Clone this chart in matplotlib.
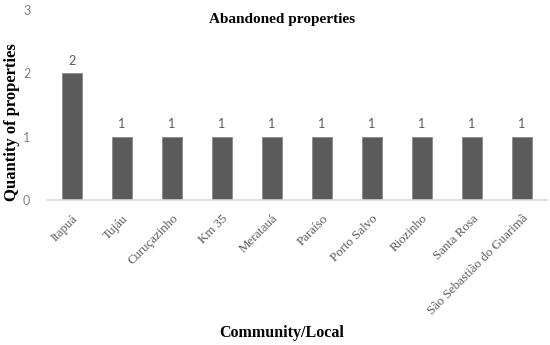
import matplotlib
matplotlib.use('Agg')
import matplotlib.pyplot as plt

communities = ['Itapuá', 'Tujáu', 'Curuçazinho', 'Km 35', 'Meratauá', 'Paraíso',
               'Porto Salvo', 'Riozinho', 'Santa Rosa', 'São Sebastião do Guarimã']
counts = [2, 1, 1, 1, 1, 1, 1, 1, 1, 1]
yticks = [0, 1, 2, 3]

serif = 'Liberation Serif'

fig = plt.figure(figsize=(5.5, 3.45), dpi=100)
ax = fig.add_axes([47 / 550, 1 - 200 / 345, 500 / 550, 190 / 345])

x = range(len(communities))
ax.bar(x, counts, width=0.4, color='#5b5b5b', edgecolor='#8a8a8a', linewidth=0.6, zorder=2)

for i, v in enumerate(counts):
    ax.text(i, v + 0.1, str(v), ha='center', va='bottom', fontsize=9,
            color='#595959', family='Lato')

ax.set_xlim(-0.5, len(communities) - 0.5)
ax.set_ylim(0, 3)
ax.set_yticks(yticks)
ax.set_yticklabels([str(t) for t in yticks], fontsize=9, color='#808080', family='Lato')
ax.set_xticks(list(x))
ax.set_xticklabels(communities, rotation=45, ha='right', rotation_mode='anchor',
                   fontsize=9.3, color='#595959', family=serif)
for lbl in ax.get_xticklabels():
    lbl.set_x(lbl.get_position()[0])
ax.tick_params(axis='both', length=0)
ax.tick_params(axis='x', pad=9)
ax.tick_params(axis='y', pad=12)

for s in ['top', 'right', 'left']:
    ax.spines[s].set_visible(False)
ax.spines['bottom'].set_color('#d9d9d9')
ax.spines['bottom'].set_linewidth(1.2)

fig.text(282 / 550, 1 - 20 / 345, 'Abandoned properties', ha='center', va='center',
         fontsize=11, fontweight='bold', family=serif)
fig.text(12 / 550, 1 - 122 / 345, 'Quantity of properties', ha='center', va='center',
         rotation=90, fontsize=12, fontweight='bold', family=serif)
fig.text(282 / 550, 1 - 333 / 345, 'Community/Local', ha='center', va='center',
         fontsize=11.5, fontweight='bold', family=serif)

fig.savefig('out.png', dpi=100)
